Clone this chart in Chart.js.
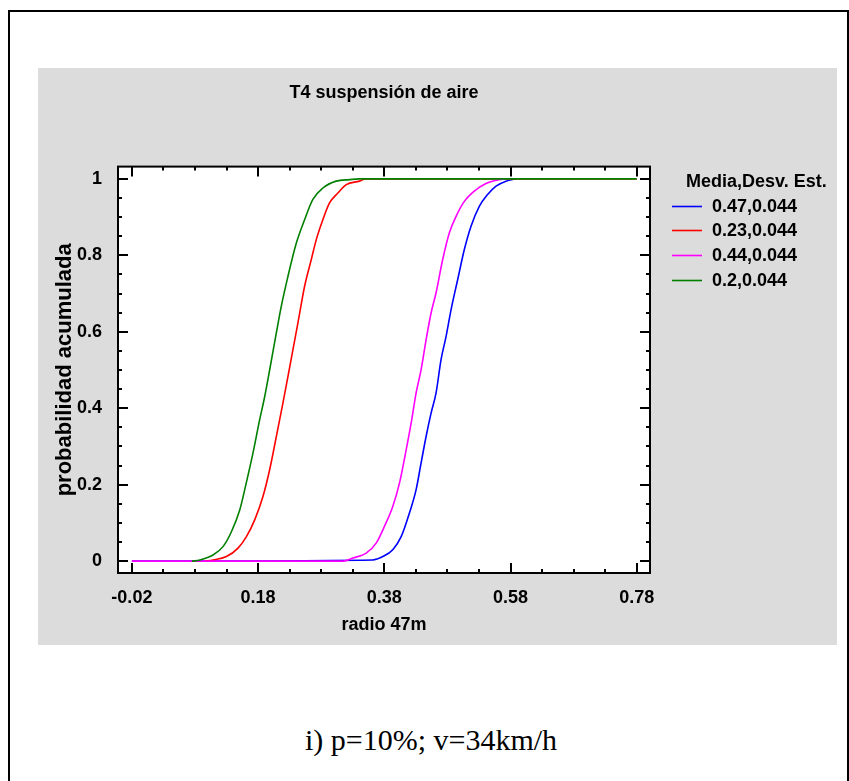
<!DOCTYPE html>
<html>
<head>
<meta charset="utf-8">
<title>T4 suspensión de aire</title>
<script src="https://cdn.jsdelivr.net/npm/chart.js@4/dist/chart.umd.min.js"></script>
<style>
  html, body { margin: 0; padding: 0; background: #fff; }
  #page { position: relative; width: 849px; height: 781px; overflow: hidden; background: #fff; }
  #frame { position: absolute; left: 8px; top: 10px; width: 837px; height: 800px;
           border-left: 2px solid #000; border-top: 2px solid #000; border-right: 2px solid #000; }
  #plot { position: absolute; left: 38px; top: 68px; background: #dcdcdc; }
  #caption { position: absolute; left: 0; top: 723px; width: 862px; text-align: center;
             font-family: "Liberation Serif", "Times New Roman", Times, serif; font-size: 30px;
             line-height: 33px; color: #000; }
</style>
</head>
<body>
<div id="page">
  <div id="frame"></div>
  <canvas id="plot" width="799" height="577"></canvas>
  <div id="caption">i) p=10%; v=34km/h</div>
</div>
<script>
// Axis ticks and labels
const xTickValues = [-0.02, 0.18, 0.38, 0.58, 0.78];
const xTickLabels = ['-0.02', '0.18', '0.38', '0.58', '0.78'];
const yTickValues = [0, 0.2, 0.4, 0.6, 0.8, 1];
const yTickLabels = ['0', '0.2', '0.4', '0.6', '0.8', '1'];

// Legend entries: mean, standard deviation
const legendTitle = 'Media,Desv. Est.';
const seriesLabels = ['0.47,0.044', '0.23,0.044', '0.44,0.044', '0.2,0.044'];

// Cumulative probability curves (radio, probabilidad acumulada)
const blueX = [-0.02, 0.3617, 0.3776, 0.3934, 0.4067, 0.4198, 0.4304, 0.4383, 0.4462, 0.4541, 0.462,
               0.4699, 0.4779, 0.4858, 0.4962, 0.5068, 0.5174, 0.5305, 0.5437, 0.557, 0.5728, 0.5886];
const blueY = [0, 0.003, 0.012, 0.03, 0.064, 0.126, 0.187, 0.257, 0.326, 0.387, 0.44,
               0.527, 0.588, 0.658, 0.736, 0.815, 0.876, 0.928, 0.959, 0.981, 0.994, 1];

const redX = [0.095, 0.1086, 0.1298, 0.1482, 0.1615, 0.1746, 0.1877, 0.1983, 0.2089, 0.2194, 0.2273,
              0.2352, 0.2431, 0.2537, 0.2643, 0.2722, 0.2826, 0.2932, 0.3064, 0.3197, 0.3407, 0.3502, 0.78];
const redY = [0, 0.003, 0.012, 0.034, 0.064, 0.108, 0.169, 0.239, 0.326, 0.414, 0.483,
              0.553, 0.623, 0.719, 0.789, 0.841, 0.893, 0.937, 0.963, 0.985, 0.994, 1, 1];

const magentaX = [-0.02, 0.315, 0.3301, 0.3513, 0.3671, 0.3802, 0.3934, 0.404, 0.4146, 0.4225, 0.4304,
                  0.4383, 0.4462, 0.4541, 0.462, 0.4725, 0.4831, 0.4937, 0.5068, 0.5226, 0.5411, 0.557, 0.5728];
const magentaY = [0, 0, 0.008, 0.021, 0.047, 0.091, 0.143, 0.204, 0.291, 0.361, 0.44,
                  0.501, 0.579, 0.649, 0.702, 0.789, 0.859, 0.902, 0.941, 0.968, 0.988, 0.996, 1];

const greenX = [0.075, 0.0876, 0.1086, 0.1244, 0.1377, 0.1509, 0.1588, 0.1719, 0.1825, 0.1904, 0.1983,
                0.2089, 0.2168, 0.2273, 0.2406, 0.2537, 0.2668, 0.2826, 0.3038, 0.3249, 0.34, 0.78];
const greenY = [0, 0.003, 0.016, 0.038, 0.077, 0.134, 0.187, 0.283, 0.37, 0.43, 0.5,
                0.597, 0.667, 0.745, 0.832, 0.893, 0.946, 0.976, 0.994, 0.998, 1, 1];

const FONT = '"Liberation Sans", Arial, Helvetica, sans-serif';

function points(xs, ys) {
  return xs.map((x, i) => ({ x: x, y: ys[i] }));
}

// White plotting area, boxed axes with inward major/minor ticks, legend block
const plotFrame = {
  id: 'plotFrame',
  beforeDraw(chart) {
    const { ctx, chartArea: a } = chart;
    ctx.save();
    ctx.fillStyle = '#ffffff';
    ctx.fillRect(a.left, a.top, a.right - a.left, a.bottom - a.top);
    ctx.restore();
  },
  afterDatasetsDraw(chart) {
    const { ctx, chartArea: a } = chart;
    const sx = chart.scales.x, sy = chart.scales.y;
    ctx.save();
    ctx.strokeStyle = '#000';
    ctx.lineWidth = 2;
    ctx.strokeRect(a.left, a.top, a.right - a.left, a.bottom - a.top);
    ctx.beginPath();
    for (let k = 0; k <= 16; k++) {
      const v = -0.02 + k * 0.05;
      const len = k % 4 === 0 ? 10 : 4;
      const px = Math.round(sx.getPixelForValue(v));
      ctx.moveTo(px, a.bottom); ctx.lineTo(px, a.bottom - len);
      ctx.moveTo(px, a.top); ctx.lineTo(px, a.top + len);
    }
    for (let k = 0; k <= 20; k++) {
      const v = k * 0.05;
      const len = k % 4 === 0 ? 10 : 4;
      const py = Math.round(sy.getPixelForValue(v));
      ctx.moveTo(a.left, py); ctx.lineTo(a.left + len, py);
      ctx.moveTo(a.right, py); ctx.lineTo(a.right - len, py);
    }
    ctx.stroke();
    ctx.restore();
  },
  afterDraw(chart) {
    const { ctx, chartArea: a } = chart;
    const x0 = a.right + 22;
    ctx.save();
    ctx.font = 'bold 18px ' + FONT;
    ctx.fillStyle = '#000';
    ctx.textAlign = 'left';
    ctx.textBaseline = 'middle';
    ctx.fillText(legendTitle, x0 + 14, a.top + 15.5);
    chart.data.datasets.forEach((ds, i) => {
      const y = a.top + 40 + i * 24.75;
      ctx.strokeStyle = ds.borderColor;
      ctx.lineWidth = 1.6;
      ctx.beginPath();
      ctx.moveTo(x0, Math.round(y) - 0.5);
      ctx.lineTo(x0 + 30, Math.round(y) - 0.5);
      ctx.stroke();
      ctx.fillStyle = '#000';
      ctx.fillText(ds.label, x0 + 40, y);
    });
    ctx.restore();
  }
};

new Chart(document.getElementById('plot'), {
  type: 'line',
  data: {
    datasets: [
      { label: seriesLabels[0], data: points(blueX, blueY), borderColor: '#0000ff', order: 3 },
      { label: seriesLabels[1], data: points(redX, redY), borderColor: '#ff0000', order: 2 },
      { label: seriesLabels[2], data: points(magentaX, magentaY), borderColor: '#ff00ff', order: 1 },
      { label: seriesLabels[3], data: points(greenX, greenY), borderColor: '#008000', order: 0 }
    ]
  },
  options: {
    responsive: false,
    animation: false,
    devicePixelRatio: 1,
    layout: { padding: { left: 0, top: 0, right: 187, bottom: 0 } },
    elements: {
      point: { radius: 0 },
      line: { borderWidth: 1.6, cubicInterpolationMode: 'monotone', fill: false }
    },
    plugins: {
      legend: { display: false },
      tooltip: { enabled: false },
      title: {
        display: true,
        text: 'T4 suspensión de aire',
        fullSize: false,
        color: '#000',
        font: { family: FONT, size: 18, weight: 'bold' },
        padding: { top: 14, bottom: 63 }
      }
    },
    scales: {
      x: {
        type: 'linear',
        min: -0.042,
        max: 0.801,
        afterBuildTicks: s => { s.ticks = xTickValues.map(v => ({ value: v })); },
        afterFit: s => { s.height = 72; },
        grid: { display: false },
        border: { display: false },
        ticks: {
          autoSkip: false, maxRotation: 0, padding: 6, color: '#000',
          font: { family: FONT, size: 18, weight: 'bold' },
          callback: (v, i) => xTickLabels[i]
        },
        title: {
          display: true, text: 'radio 47m', color: '#000',
          font: { family: FONT, size: 18, weight: 'bold' },
          padding: { top: 0, bottom: 9 }
        }
      },
      y: {
        type: 'linear',
        min: -0.031,
        max: 1.032,
        afterBuildTicks: s => { s.ticks = yTickValues.map(v => ({ value: v })); },
        afterFit: s => { s.width = 80; },
        grid: { display: false },
        border: { display: false },
        ticks: {
          autoSkip: false, padding: 8, color: '#000',
          font: { family: FONT, size: 18, weight: 'bold' },
          callback: (v, i) => yTickLabels[i]
        },
        title: {
          display: true, text: 'probabilidad acumulada', color: '#000',
          font: { family: FONT, size: 22, weight: 'bold' },
          padding: { top: 14, bottom: 0 }
        }
      }
    }
  },
  plugins: [plotFrame]
});
</script>
</body>
</html>
